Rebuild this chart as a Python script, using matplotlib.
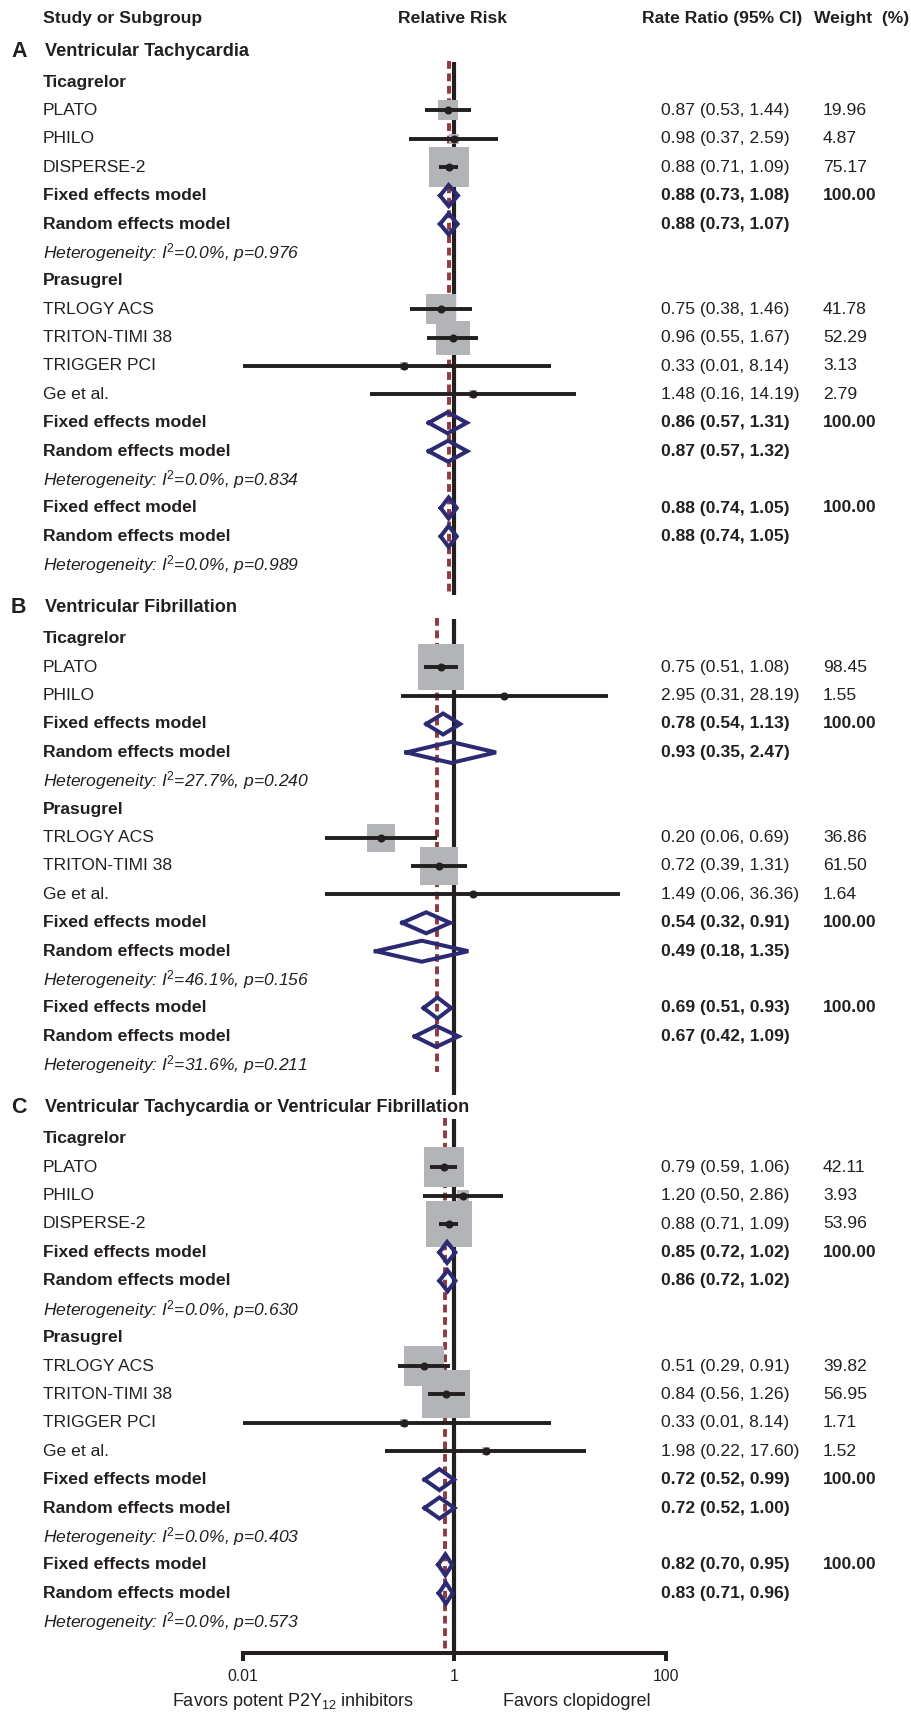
import matplotlib.pyplot as plt
import matplotlib.transforms as mtransforms
import numpy as np

plt.rcParams['font.family'] = ['Liberation Sans', 'DejaVu Sans']
plt.rcParams['mathtext.fontset'] = 'custom'
plt.rcParams['mathtext.rm'] = 'Liberation Sans'
plt.rcParams['mathtext.it'] = 'Liberation Sans:italic'
plt.rcParams['mathtext.bf'] = 'Liberation Sans:bold'

# ---------------- data ----------------
sections = ["A", "B", "C"]
section_titles = ["Ventricular Tachycardia", "Ventricular Fibrillation",
                  "Ventricular Tachycardia or Ventricular Fibrillation"]
subgroups = ["Ticagrelor", "Prasugrel"]

# A - ventricular tachycardia
a_tica_study = ["PLATO", "PHILO", "DISPERSE-2"]
a_tica_rr = [0.87, 0.98, 0.88]
a_tica_lo = [0.53, 0.37, 0.71]
a_tica_hi = [1.44, 2.59, 1.09]
a_tica_w = [19.96, 4.87, 75.17]
a_tica_fixed = [0.88, 0.73, 1.08]
a_tica_random = [0.88, 0.73, 1.07]
a_tica_het = ["0.0%", "0.976"]

a_pras_study = ["TRLOGY ACS", "TRITON-TIMI 38", "TRIGGER PCI", "Ge et al."]
a_pras_rr = [0.75, 0.96, 0.33, 1.48]
a_pras_lo = [0.38, 0.55, 0.01, 0.16]
a_pras_hi = [1.46, 1.67, 8.14, 14.19]
a_pras_w = [41.78, 52.29, 3.13, 2.79]
a_pras_fixed = [0.86, 0.57, 1.31]
a_pras_random = [0.87, 0.57, 1.32]
a_pras_het = ["0.0%", "0.834"]

a_all_fixed = [0.88, 0.74, 1.05]
a_all_random = [0.88, 0.74, 1.05]
a_all_het = ["0.0%", "0.989"]

# B - ventricular fibrillation
b_tica_study = ["PLATO", "PHILO"]
b_tica_rr = [0.75, 2.95]
b_tica_lo = [0.51, 0.31]
b_tica_hi = [1.08, 28.19]
b_tica_w = [98.45, 1.55]
b_tica_fixed = [0.78, 0.54, 1.13]
b_tica_random = [0.93, 0.35, 2.47]
b_tica_het = ["27.7%", "0.240"]

b_pras_study = ["TRLOGY ACS", "TRITON-TIMI 38", "Ge et al."]
b_pras_rr = [0.20, 0.72, 1.49]
b_pras_lo = [0.06, 0.39, 0.06]
b_pras_hi = [0.69, 1.31, 36.36]
b_pras_w = [36.86, 61.50, 1.64]
b_pras_fixed = [0.54, 0.32, 0.91]
b_pras_random = [0.49, 0.18, 1.35]
b_pras_het = ["46.1%", "0.156"]

b_all_fixed = [0.69, 0.51, 0.93]
b_all_random = [0.67, 0.42, 1.09]
b_all_het = ["31.6%", "0.211"]

# C - VT or VF
c_tica_study = ["PLATO", "PHILO", "DISPERSE-2"]
c_tica_rr = [0.79, 1.20, 0.88]
c_tica_lo = [0.59, 0.50, 0.71]
c_tica_hi = [1.06, 2.86, 1.09]
c_tica_w = [42.11, 3.93, 53.96]
c_tica_fixed = [0.85, 0.72, 1.02]
c_tica_random = [0.86, 0.72, 1.02]
c_tica_het = ["0.0%", "0.630"]

c_pras_study = ["TRLOGY ACS", "TRITON-TIMI 38", "TRIGGER PCI", "Ge et al."]
c_pras_rr = [0.51, 0.84, 0.33, 1.98]
c_pras_lo = [0.29, 0.56, 0.01, 0.22]
c_pras_hi = [0.91, 1.26, 8.14, 17.60]
c_pras_w = [39.82, 56.95, 1.71, 1.52]
c_pras_fixed = [0.72, 0.52, 0.99]
c_pras_random = [0.72, 0.52, 1.00]
c_pras_het = ["0.0%", "0.403"]

c_all_fixed = [0.82, 0.70, 0.95]
c_all_random = [0.83, 0.71, 0.96]
c_all_het = ["0.0%", "0.573"]

overall_fixed_names = ["Fixed effect model", "Fixed effects model", "Fixed effects model"]
xticks = [0.01, 1, 100]
xtick_labels = ["0.01", "1", "100"]

# put the pieces together for looping
sec_data = [
    ([(a_tica_study, a_tica_rr, a_tica_lo, a_tica_hi, a_tica_w, a_tica_fixed, a_tica_random, a_tica_het),
      (a_pras_study, a_pras_rr, a_pras_lo, a_pras_hi, a_pras_w, a_pras_fixed, a_pras_random, a_pras_het)],
     a_all_fixed, a_all_random, a_all_het),
    ([(b_tica_study, b_tica_rr, b_tica_lo, b_tica_hi, b_tica_w, b_tica_fixed, b_tica_random, b_tica_het),
      (b_pras_study, b_pras_rr, b_pras_lo, b_pras_hi, b_pras_w, b_pras_fixed, b_pras_random, b_pras_het)],
     b_all_fixed, b_all_random, b_all_het),
    ([(c_tica_study, c_tica_rr, c_tica_lo, c_tica_hi, c_tica_w, c_tica_fixed, c_tica_random, c_tica_het),
      (c_pras_study, c_pras_rr, c_pras_lo, c_pras_hi, c_pras_w, c_pras_fixed, c_pras_random, c_pras_het)],
     c_all_fixed, c_all_random, c_all_het),
]

# ---------------- style ----------------
dark = '#231F20'
navy = '#2B2A72'
red = '#8E3A3E'
gray = '#B3B4B7'
fs = 12.6
title_fs = 13.1
box_scale = [4.7, 4.72, 6.3]   # box side (px) per sqrt(weight)
dash_pad = [27, 7, None]

W, H = 911, 1714
axis_y = 1653
step = 28.4

fig = plt.figure(figsize=(W / 100, H / 100), dpi=100)
ax = fig.add_axes([243 / W, 0, (666 - 243) / W, 1])
ax.set_xscale('log')
ax.set_xlim(0.01, 100)
ax.set_ylim(H, 0)
ax.patch.set_alpha(0)
for s in ['top', 'left', 'right']:
    ax.spines[s].set_visible(False)
ax.spines['bottom'].set_position(('data', axis_y))
ax.spines['bottom'].set_linewidth(2.9)
ax.spines['bottom'].set_color(dark)
ax.set_yticks([])
ax.set_xticks(xticks)
ax.set_xticklabels(xtick_labels)
ax.minorticks_off()
ax.tick_params(axis='x', direction='out', length=5.5, width=2.9, color=dark,
               labelsize=11.3, labelcolor=dark, pad=6)

tr = mtransforms.blended_transform_factory(fig.transFigure, ax.transData)


def put(x, y, s, **kw):
    kw.setdefault('fontsize', fs)
    kw.setdefault('color', dark)
    ax.text(x / W, y, s, transform=tr, va='center', ha=kw.pop('ha', 'left'), **kw)


def ci_text(v):
    return "{:.2f} ({:.2f}, {:.2f})".format(v[0], v[1], v[2])


def diamond(v, y):
    h = 10.5
    ax.plot([v[1], v[0], v[2], v[0], v[1]], [y, y - h, y, y + h, y],
            color=navy, lw=2.9, solid_joinstyle='miter', zorder=5)


def summary(name, v, y, weight=True):
    put(43, y, name, weight='bold')
    put(661, y, ci_text(v), weight='bold')
    if weight:
        put(823, y, "100.00", weight='bold')
    diamond(v, y)


def het_row(h, y):
    put(43, y, "Heterogeneity: I$^{2}$=" + h[0] + ", p=" + h[1], style='italic')


# headers
put(43, 18, "Study or Subgroup", weight='bold')
put(452, 18, "Relative Risk", weight='bold', ha='center')
put(642, 18, "Rate Ratio (95% CI)", weight='bold')
put(814, 18, "Weight  (%)", weight='bold')

y = 51
for k in range(3):
    groups, all_fixed, all_random, all_het = sec_data[k]
    ty = y
    put(11, ty, sections[k], fontsize=15.5, weight='bold')
    put(45, ty, section_titles[k], fontsize=title_fs, weight='bold')
    y = ty + 31
    for g in range(2):
        study, rr, lo, hi, w, fx, rd, het = groups[g]
        put(43, y, subgroups[g], weight='bold')
        y += step
        for i in range(len(study)):
            put(43, y, study[i])
            put(661, y, ci_text([rr[i], lo[i], hi[i]]))
            put(823, y, "{:.2f}".format(w[i]))
            side = box_scale[k] * np.sqrt(w[i]) * 0.72
            ax.scatter([rr[i]], [y], marker='s', s=side ** 2, color=gray,
                       linewidths=0, zorder=2)
            ax.plot([lo[i], hi[i]], [y, y], color=dark, lw=2.8,
                    solid_capstyle='butt', zorder=3)
            ax.plot([rr[i]], [y], 'o', color=dark, ms=4.8, zorder=4)
            y += step
        summary("Fixed effects model", fx, y)
        y += step
        summary("Random effects model", rd, y, weight=False)
        y += step
        het_row(het, y)
        y += step
    summary(overall_fixed_names[k], all_fixed, y)
    y += step
    summary("Random effects model", all_random, y, weight=False)
    y += step
    het_row(all_het, y)
    last = y

    # null line and pooled estimate line
    if k < 2:
        solid_end = last + 30
        dash_end = last + dash_pad[k]
    else:
        solid_end = axis_y
        dash_end = axis_y
    ax.plot([1, 1], [ty + 11, solid_end], color=dark, lw=3.0,
            solid_capstyle='butt', zorder=1)
    ax.plot([all_fixed[0], all_fixed[0]], [ty + 10, dash_end], color=red,
            lw=2.8, dashes=(2.0, 1.2), zorder=1.5)
    y = last + 43

fig.text(172 / W, 1 - 1702 / H, "Favors potent P2Y$_{\\mathrm{12}}$ inhibitors",
         fontsize=13, color=dark, va='center', ha='left')
fig.text(503 / W, 1 - 1702 / H, "Favors clopidogrel",
         fontsize=13, color=dark, va='center', ha='left')

fig.savefig('out.png', dpi=100, facecolor='white')
